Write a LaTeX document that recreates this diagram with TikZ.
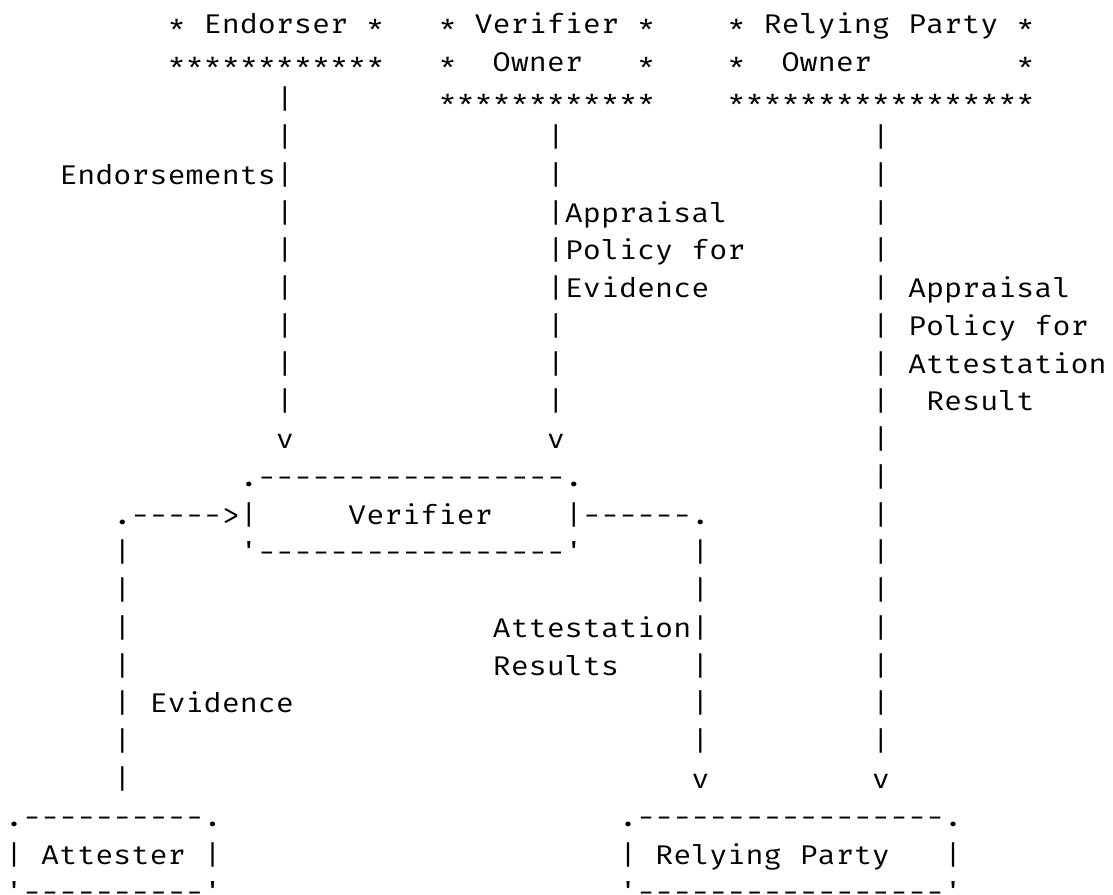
\documentclass[tikz,border=0pt]{standalone}
\usepackage{fontspec}
\setmonofont[FakeStretch=1.1148]{Fira Mono}
\tikzset{
  glyphs/.style={anchor=base west, inner sep=0pt, outer sep=0pt,
    font=\ttfamily\fontsize{27}{30}\selectfont, text=black}
}
% place a run of characters on the character grid: column, row, text
\newcommand\ascii[3]{%
  \node[glyphs] (r#2c#1) at ({5.07+18.06*#1},{33.3+37.76*#2}) {#3};}
\begin{document}
\begin{tikzpicture}[x=1pt,y=-1pt]
\useasboundingbox[fill=white] (0,0) rectangle (1113,894);
\clip (0,0) rectangle (1113,894);
% owners
\ascii{9}{0}{* Endorser *}
\ascii{24}{0}{* Verifier *}
\ascii{40}{0}{* Relying Party *}
\ascii{9}{1}{************}
\ascii{24}{1}{*}\ascii{27}{1}{Owner}\ascii{35}{1}{*}
\ascii{40}{1}{*}\ascii{43}{1}{Owner}\ascii{56}{1}{*}
\ascii{15}{2}{|}
\ascii{24}{2}{************}
\ascii{40}{2}{*****************}
% policy and endorsement flows
\ascii{15}{3}{|}\ascii{30}{3}{|}\ascii{48}{3}{|}
\ascii{3}{4}{Endorsements|}\ascii{30}{4}{|}\ascii{48}{4}{|}
\ascii{15}{5}{|}\ascii{30}{5}{|Appraisal}\ascii{48}{5}{|}
\ascii{15}{6}{|}\ascii{30}{6}{|Policy for}\ascii{48}{6}{|}
\ascii{15}{7}{|}\ascii{30}{7}{|Evidence}\ascii{48}{7}{| Appraisal}
\ascii{15}{8}{|}\ascii{30}{8}{|}\ascii{48}{8}{| Policy for}
\ascii{15}{9}{|}\ascii{30}{9}{|}\ascii{48}{9}{| Attestation}
\ascii{15}{10}{|}\ascii{30}{10}{|}\ascii{48}{10}{|}\ascii{51}{10}{Result}
\ascii{15}{11}{v}\ascii{30}{11}{v}\ascii{48}{11}{|}
% verifier
\ascii{13}{12}{.-----------------.}\ascii{48}{12}{|}
\ascii{6}{13}{.----->|}\ascii{19}{13}{Verifier}\ascii{31}{13}{|------.}\ascii{48}{13}{|}
\ascii{6}{14}{|}\ascii{13}{14}{'-----------------'}\ascii{38}{14}{|}\ascii{48}{14}{|}
% evidence and results
\ascii{6}{15}{|}\ascii{38}{15}{|}\ascii{48}{15}{|}
\ascii{6}{16}{|}\ascii{27}{16}{Attestation|}\ascii{48}{16}{|}
\ascii{6}{17}{|}\ascii{27}{17}{Results}\ascii{38}{17}{|}\ascii{48}{17}{|}
\ascii{6}{18}{| Evidence}\ascii{38}{18}{|}\ascii{48}{18}{|}
\ascii{6}{19}{|}\ascii{38}{19}{|}\ascii{48}{19}{|}
\ascii{6}{20}{|}\ascii{38}{20}{v}\ascii{48}{20}{v}
% attester and relying party
\ascii{0}{21}{.----------.}\ascii{34}{21}{.-----------------.}
\ascii{0}{22}{| Attester |}\ascii{34}{22}{| Relying Party}\ascii{52}{22}{|}
\ascii{0}{23}{'----------'}\ascii{34}{23}{'-----------------'}
\end{tikzpicture}
\end{document}
